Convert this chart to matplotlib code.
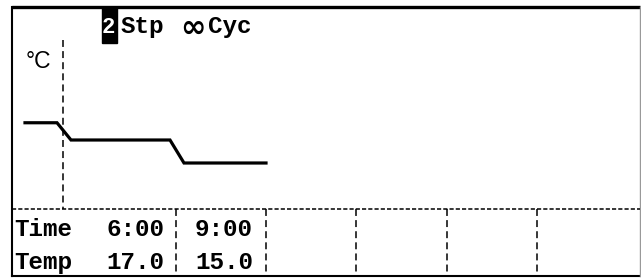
# Temperature controller screen: 2-step program, infinite cycles
import matplotlib.pyplot as plt
from matplotlib.patches import Rectangle

plt.rcParams['lines.scale_dashes'] = False

# program values shown on the screen
step_count = 2
cycles = "∞"
times = ["6:00", "9:00"]
temps = [17.0, 15.0]
start_temp = 18.5          # level held before step 1
row_labels = ["Time", "Temp"]

W, H = 641, 280
fig = plt.figure(figsize=(W / 100, H / 100), dpi=100)

# layout axes in pixel units
ax = fig.add_axes([0, 0, 1, 1])
ax.set_xlim(0, W)
ax.set_ylim(H, 0)
ax.axis('off')

left, right, top, bottom = 12, 640, 7, 276
table_y = 209
graph_edges = [63, 176, 266]                 # step boundaries in the graph
table_cols = [176, 266, 356, 447, 537]       # column dividers in the table

# screen frame
ax.plot([left, right], [top, top], color='black', lw=2.4, solid_capstyle='butt')
ax.plot([left, left], [top, bottom], color='black', lw=1.5)
ax.plot([left, right], [bottom, bottom], color='black', lw=1.5)
ax.plot([right, right], [top, bottom], color='#999999', lw=1.0)

dash_h = dict(color='black', lw=1.1, linestyle=(0, (3.0, 1.5)))
dash_v = dict(color='black', lw=1.1, linestyle=(0, (5.0, 3.0)))
ax.plot([left, right], [table_y, table_y], **dash_h)
ax.plot([graph_edges[0]] * 2, [40, table_y], **dash_v)
for x in table_cols:
    ax.plot([x, x], [table_y, bottom], **dash_v)

# title with inverse-video step number
mono = ['Liberation Mono', 'DejaVu Sans Mono']
ax.add_patch(Rectangle((102, 8), 15, 35, color='black', zorder=3))
ax.text(102, 33, str(step_count), color='white', fontsize=16, family=mono,
        fontweight='bold', va='baseline', zorder=4)
ax.text(121, 33, "Stp", fontsize=17.5, family=mono, fontweight='bold', va='baseline')
ax.text(180, 37, cycles, fontsize=22, family=['DejaVu Sans'], fontweight='bold', va='baseline')
ax.text(208, 33, "Cyc", fontsize=17.5, family=mono, fontweight='bold', va='baseline')

ax.text(26, 68, "°C", fontsize=16.5, family=['Liberation Sans', 'DejaVu Sans'], va='baseline')

# table rows
fs = 17.5
ax.text(14, 236, row_labels[0], fontsize=fs, family=mono, fontweight='bold', va='baseline')
ax.text(14, 269, row_labels[1], fontsize=fs, family=mono, fontweight='bold', va='baseline')
for i, (t, c) in enumerate(zip(times, temps)):
    x0 = 106 + i * 89
    ax.text(x0, 236, t, fontsize=fs, family=mono, fontweight='bold', va='baseline')
    ax.text(x0, 269, f"{c:.1f}", fontsize=fs, family=mono, fontweight='bold', va='baseline')

# temperature profile axes: x in pixels, y in degrees C
g_top = 40
deg_per_px = 2.0 / 23
gx = fig.add_axes([0, 1 - table_y / H, 1, (table_y - g_top) / H])
gx.set_xlim(0, W)
gx.set_ylim(17 - (table_y - 140) * deg_per_px, 17 + (140 - g_top) * deg_per_px)
gx.axis('off')
gx.patch.set_alpha(0)

xs, ys = [25], [start_temp]
level = start_temp
for i, edge in enumerate(graph_edges[:-1]):
    xs += [edge - 6, edge + 8]
    ys += [level, temps[i]]
    level = temps[i]
xs.append(graph_edges[-1])
ys.append(level)
gx.plot(xs, ys, color='black', lw=2.3, solid_joinstyle='miter')

fig.savefig("out.png", dpi=100)
